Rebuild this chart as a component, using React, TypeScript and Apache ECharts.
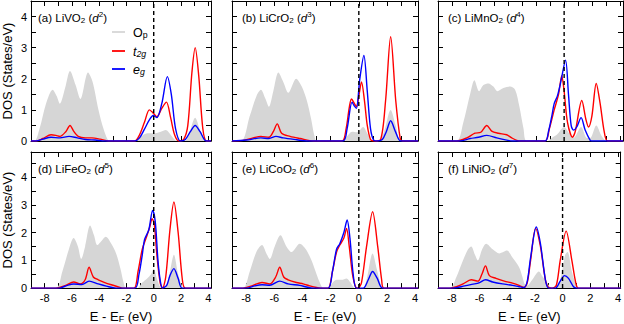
import React, { useEffect, useRef } from "react";
import * as echarts from "echarts";

// ---------- data (energy in eV, DOS in States/eV) ----------
const opLiVO2 = [[-9,0],[-8.74,0],[-8.37,0.4],[-7.9,1.2],[-7.41,1.65],[-7.12,1.45],[-6.88,1.2],[-6.5,1.7],[-6.14,2.25],[-5.73,1.8],[-5.37,1.35],[-4.82,2.2],[-4.48,1.9],[-4.05,1.0],[-3.69,0.4],[-3.38,0.05],[-3.2,0],[-1.28,0],[-0.92,0.15],[-0.44,0.25],[0.04,0.25],[0.52,0.3],[0.88,0.35],[1.24,0.2],[1.6,0.02],[1.96,0],[2.3,0],[2.6,0.25],[3.04,0.75],[3.4,0.35],[3.76,0.03],[3.9,0],[4.2,0]];
const t2gLiVO2 = [[-9,0],[-8.62,0],[-8.13,0.08],[-7.53,0.2],[-7.17,0.18],[-6.88,0.15],[-6.45,0.3],[-6.14,0.5],[-5.85,0.3],[-5.54,0.15],[-5.01,0.1],[-4.53,0.1],[-3.93,0.06],[-3.33,0],[-1.4,0],[-1.04,0.2],[-0.68,0.6],[-0.32,1.0],[-0.08,0.92],[0.23,0.78],[0.59,1.05],[0.93,1.25],[1.24,0.75],[1.53,0.2],[1.84,0],[2.2,0.05],[2.5,0.5],[2.8,2.2],[3.04,3.0],[3.3,2.1],[3.6,0.4],[3.88,0],[4.2,0]];
const egLiVO2 = [[-9,0],[-8.62,0],[-8.13,0.06],[-7.53,0.12],[-6.88,0.1],[-6.21,0.15],[-5.61,0.1],[-5.01,0.05],[-4.29,0.03],[-3.57,0],[-1.4,0],[-1.04,0.1],[-0.68,0.38],[-0.32,0.68],[-0.03,0.82],[0.23,0.75],[0.59,1.2],[1.0,2.07],[1.29,1.5],[1.6,0.4],[1.96,0],[2.32,0.05],[2.68,0.3],[3.04,0.5],[3.4,0.3],[3.84,0],[4.2,0]];

const opLiCrO2 = [[-9,0],[-8.33,0],[-7.74,0.8],[-7.26,1.45],[-6.95,1.65],[-6.62,1.35],[-6.38,1.1],[-6.07,1.6],[-5.71,2.2],[-5.36,1.9],[-5.0,1.55],[-4.45,2.0],[-4.05,1.75],[-3.69,1.3],[-3.38,0.7],[-3.17,0.2],[-2.98,0],[-1.19,0],[-0.83,0.15],[-0.48,0.3],[-0.12,0.28],[0.31,0.45],[0.6,0.25],[0.95,0],[1.4,0],[1.79,0.3],[2.26,1.0],[2.62,0.5],[2.98,0],[4.2,0]];
const t2gLiCrO2 = [[-9,0],[-8.21,0.02],[-7.5,0.1],[-6.95,0.15],[-6.38,0.12],[-6.07,0.3],[-5.79,0.55],[-5.48,0.25],[-4.88,0.15],[-4.17,0.08],[-3.21,0],[-1.19,0],[-0.9,0.4],[-0.67,1.1],[-0.52,1.35],[-0.31,1.2],[-0.17,1.1],[0.02,1.5],[0.19,1.9],[0.4,1.3],[0.6,0.5],[0.83,0.05],[1.07,0],[1.55,0.05],[1.9,1.3],[2.26,3.35],[2.62,1.3],[2.93,0.1],[3.1,0],[4.2,0]];
const egLiCrO2 = [[-9,0],[-7.98,0.03],[-6.95,0.1],[-6.38,0.08],[-5.88,0.15],[-5.36,0.1],[-4.4,0.04],[-3.69,0],[-1.12,0],[-0.83,0.4],[-0.48,1.25],[-0.31,1.12],[-0.17,1.05],[0.07,2.0],[0.36,2.75],[0.6,1.6],[0.83,0.4],[1.07,0.02],[1.3,0],[1.67,0.05],[1.95,0.3],[2.26,0.65],[2.6,0.3],[2.98,0],[4.2,0]];

const opLiMnO2 = [[-9,0],[-7.67,0],[-7.19,0.6],[-6.71,1.5],[-6.4,1.95],[-6.07,1.6],[-5.76,1.8],[-5.4,1.85],[-5.05,1.75],[-4.76,1.6],[-4.33,1.7],[-3.86,1.75],[-3.5,1.65],[-3.19,1.1],[-2.9,0.4],[-2.67,0],[-1.19,0],[-0.88,0.1],[-0.52,0.2],[0.0,0.45],[0.36,0.25],[0.67,0.1],[1.21,0.45],[1.62,0.1],[1.86,0.1],[2.29,0.5],[2.69,0.15],[3.05,0],[4.2,0]];
const t2gLiMnO2 = [[-9,0],[-7.67,0],[-6.95,0.1],[-6.36,0.25],[-5.95,0.28],[-5.52,0.5],[-5.17,0.32],[-4.69,0.25],[-4.1,0.2],[-3.74,0.1],[-3.38,0.02],[-3.1,0],[-1.36,0],[-1.05,0.4],[-0.71,1.0],[-0.4,1.5],[-0.17,2.1],[0.0,1.6],[0.24,0.6],[0.6,0.12],[0.79,0.3],[1.26,1.3],[1.55,0.7],[1.74,0.45],[1.98,0.8],[2.29,1.85],[2.57,1.2],[2.86,0.3],[3.1,0],[4.2,0]];
const egLiMnO2 = [[-9,0],[-7.43,0],[-6.71,0.08],[-6.12,0.12],[-5.52,0.18],[-4.81,0.1],[-4.1,0.03],[-3.7,0],[-1.36,0],[-1.12,0.3],[-0.88,0.8],[-0.71,1.2],[-0.48,1.45],[-0.24,1.9],[0.1,2.6],[0.31,1.5],[0.5,0.5],[0.67,0.35],[0.9,0.45],[1.21,0.75],[1.5,0.35],[1.86,0.02],[2.0,0],[4.2,0]];

const opLiFeO2 = [[-9,0],[-7.18,0],[-6.7,0.6],[-6.22,1.4],[-5.87,1.8],[-5.56,1.5],[-5.32,1.05],[-5.03,1.5],[-4.67,2.25],[-4.38,1.9],[-4.14,1.55],[-3.83,1.7],[-3.52,1.85],[-3.11,1.6],[-2.76,1.25],[-2.44,0.7],[-2.21,0.2],[-2.04,0],[-1.2,0],[-0.84,0.2],[-0.48,0.35],[-0.2,0.5],[0.0,0.7],[0.23,0.35],[0.47,0.05],[0.71,0],[0.95,0.1],[1.19,0.6],[1.48,1.2],[1.79,0.5],[2.1,0.05],[2.27,0],[4.2,0]];
const t2gLiFeO2 = [[-9,0],[-7.18,0],[-6.46,0.1],[-5.87,0.22],[-5.39,0.15],[-5.03,0.3],[-4.74,0.75],[-4.43,0.4],[-4.07,0.3],[-3.59,0.2],[-3.11,0.12],[-2.64,0.05],[-2.28,0],[-1.44,0],[-1.15,0.6],[-0.84,1.4],[-0.56,1.8],[-0.29,2.2],[-0.12,2.5],[0.04,2.3],[0.23,1.2],[0.47,0.2],[0.64,0],[0.88,0.4],[1.19,2.1],[1.48,3.1],[1.79,2.0],[2.1,0.3],[2.32,0],[4.2,0]];
const egLiFeO2 = [[-9,0],[-6.94,0],[-6.34,0.1],[-5.87,0.15],[-5.27,0.13],[-4.74,0.25],[-4.07,0.15],[-3.47,0.07],[-2.76,0],[-1.37,0],[-1.08,0.5],[-0.84,1.2],[-0.67,1.75],[-0.36,2.1],[-0.08,2.8],[0.11,2.4],[0.31,1.0],[0.47,0.3],[0.64,0],[0.95,0.1],[1.19,0.45],[1.48,0.7],[1.79,0.35],[2.1,0],[4.2,0]];

const opLiCoO2 = [[-9,0],[-8.22,0],[-7.74,0.6],[-7.27,1.3],[-6.87,1.55],[-6.56,1.25],[-6.32,1.05],[-5.97,1.5],[-5.56,1.9],[-5.14,1.5],[-4.78,1.3],[-4.19,1.6],[-3.76,1.4],[-3.36,1.0],[-3.0,0.5],[-2.77,0.2],[-2.53,0],[-2.18,0],[-1.94,0.15],[-1.58,0.3],[-1.23,0.3],[-0.87,0.35],[-0.59,0.2],[-0.28,0],[0.31,0],[0.55,0.3],[0.98,1.25],[1.27,0.7],[1.58,0.1],[1.74,0],[4.2,0]];
const t2gLiCoO2 = [[-9,0],[-8.22,0],[-7.51,0.1],[-6.87,0.2],[-6.32,0.15],[-5.9,0.4],[-5.61,0.75],[-5.33,0.4],[-5.02,0.3],[-4.43,0.2],[-3.95,0.15],[-3.48,0.08],[-3.0,0.02],[-2.7,0],[-2.18,0],[-1.87,0.6],[-1.58,1.3],[-1.35,1.55],[-1.06,1.8],[-0.87,2.15],[-0.68,1.5],[-0.45,0.5],[-0.21,0.02],[-0.05,0],[0.19,0.2],[0.55,1.5],[0.98,2.75],[1.34,1.5],[1.62,0.3],[1.78,0],[4.2,0]];
const egLiCoO2 = [[-9,0],[-7.98,0],[-7.39,0.08],[-6.87,0.12],[-6.32,0.1],[-5.61,0.25],[-5.02,0.15],[-4.19,0.1],[-3.72,0.04],[-3.24,0],[-2.18,0],[-1.87,0.6],[-1.58,1.4],[-1.35,1.6],[-1.06,2.0],[-0.83,2.45],[-0.63,1.8],[-0.4,0.5],[-0.17,0],[0.31,0],[0.67,0.3],[0.98,0.6],[1.31,0.35],[1.69,0],[4.2,0]];

const opLiNiO2 = [[-9,0],[-8.14,0],[-7.67,0.4],[-7.19,1.0],[-6.83,1.4],[-6.6,1.5],[-6.33,1.2],[-6.12,1.0],[-5.81,1.4],[-5.52,1.6],[-5.05,1.4],[-4.57,1.25],[-4.02,1.35],[-3.62,1.1],[-3.14,0.75],[-2.9,0.4],[-2.74,0.15],[-2.55,0.1],[-2.19,0.3],[-1.71,0.6],[-1.43,0.4],[-1.12,0.2],[-0.81,0],[-0.52,0],[-0.17,0.3],[0.19,1.2],[0.36,1.3],[0.67,0.6],[0.98,0.1],[1.14,0],[4.2,0]];
const t2gLiNiO2 = [[-9,0],[-8.14,0],[-7.67,0.05],[-7.19,0.15],[-6.6,0.3],[-6.12,0.25],[-5.83,0.5],[-5.57,0.8],[-5.29,0.45],[-4.81,0.35],[-4.21,0.25],[-3.62,0.18],[-3.14,0.1],[-2.79,0.02],[-2.55,0.2],[-2.31,1.0],[-1.95,2.15],[-1.6,1.5],[-1.24,0.3],[-1.0,0.02],[-0.76,0],[-0.45,0.1],[-0.17,1.0],[0.26,2.05],[0.67,1.0],[0.95,0.2],[1.14,0],[4.2,0]];
const egLiNiO2 = [[-9,0],[-7.9,0],[-7.07,0.08],[-6.36,0.15],[-6.0,0.2],[-5.57,0.3],[-5.05,0.22],[-4.33,0.15],[-3.62,0.1],[-3.14,0.05],[-2.79,0.02],[-2.55,0.25],[-2.31,1.1],[-1.9,2.2],[-1.6,1.6],[-1.24,0.3],[-1.0,0],[-0.52,0],[-0.17,0.25],[0.14,0.45],[0.43,0.35],[0.79,0.05],[1.02,0],[4.2,0]];

const panelLetters = ["(a)", "(b)", "(c)", "(d)", "(e)", "(f)"];
const compounds = ["LiVO", "LiCrO", "LiMnO", "LiFeO", "LiCoO", "LiNiO"];
const dElectrons = ["2", "3", "4", "5", "6", "7"];
const opSets = [opLiVO2, opLiCrO2, opLiMnO2, opLiFeO2, opLiCoO2, opLiNiO2];
const t2gSets = [t2gLiVO2, t2gLiCrO2, t2gLiMnO2, t2gLiFeO2, t2gLiCoO2, t2gLiNiO2];
const egSets = [egLiVO2, egLiCrO2, egLiMnO2, egLiFeO2, egLiCoO2, egLiNiO2];
const rowYMax = [4.5, 4.9];
const xMin = -9;
const xMax = 4.2;

// ---------- layout ----------
const COL_LEFT = [28, 232, 438];
const COL_WIDTH = [183, 186, 185];
const ROW_TOP = [1, 152];
const ROW_HEIGHT = [140, 139.5];
const FONT = "'Liberation Sans', Arial, Helvetica, sans-serif";
const GRAY = "#d6d6d6";
const RED = "#ff0000";
const BLUE = "#0000ff";

const richBase = (size: number) => ({
  n: { fontSize: size, fontFamily: FONT, fill: "#000", color: "#000", verticalAlign: "bottom", lineHeight: 14 },
  it: { fontSize: size, fontFamily: FONT, fontStyle: "italic", fill: "#000", color: "#000", verticalAlign: "bottom", lineHeight: 14 },
  sub: { fontSize: size * 0.7, fontFamily: FONT, fill: "#000", color: "#000", verticalAlign: "bottom", lineHeight: 8, padding: [8, 0, 0, 0] },
  subit: { fontSize: size * 0.7, fontFamily: FONT, fontStyle: "italic", fill: "#000", color: "#000", verticalAlign: "bottom", lineHeight: 8, padding: [8, 0, 0, 0] },
  sup: { fontSize: size * 0.7, fontFamily: FONT, fill: "#000", color: "#000", verticalAlign: "top", lineHeight: 8, padding: [0, 0, 7, 0] },
});

function buildOption() {
  const grid: any[] = [];
  const xAxis: any[] = [];
  const yAxis: any[] = [];
  const series: any[] = [];
  const graphic: any[] = [];

  const xFmt = (v: number) => {
    const r = Math.round(v);
    return Math.abs(v - r) < 1e-6 && r % 2 === 0 ? String(r) : "";
  };
  const yFmt = (v: number) => {
    const r = Math.round(v);
    return Math.abs(v - r) < 1e-6 ? String(r) : "";
  };

  for (let i = 0; i < 6; i++) {
    const row = Math.floor(i / 3);
    const col = i % 3;
    const ymax = rowYMax[row];
    grid.push({ left: COL_LEFT[col], top: ROW_TOP[row], width: COL_WIDTH[col], height: ROW_HEIGHT[row], containLabel: false });

    const axLine = { show: true, onZero: false, lineStyle: { color: "#000", width: 1 } };
    const axTick = { show: true, inside: true, length: 5, lineStyle: { color: "#000", width: 1 } };
    const xCommon = { type: "value", gridIndex: i, min: xMin, max: xMax, interval: 1, splitLine: { show: false }, axisLine: axLine, axisTick: axTick };
    xAxis.push({
      ...xCommon,
      position: "bottom",
      axisLabel: { show: row === 1, formatter: xFmt, fontSize: 11, color: "#000", margin: 4, fontFamily: FONT, showMinLabel: true, showMaxLabel: true },
      name: row === 1 ? "{n|E - E}{sub|F}{n| (eV)}" : "",
      nameLocation: "middle",
      nameGap: 10,
      nameTextStyle: {
        fontSize: 13, fontFamily: FONT, color: "#000",
        rich: {
          n: { fontSize: 13, fontFamily: FONT, color: "#000", verticalAlign: "bottom", lineHeight: 16 },
          sub: { fontSize: 9, fontFamily: FONT, color: "#000", verticalAlign: "bottom", lineHeight: 9, padding: [10, 0, 0, 0] },
        },
      },
    });
    xAxis.push({ ...xCommon, position: "top", axisLabel: { show: false } });

    const yCommon = { type: "value", gridIndex: i, min: 0, max: ymax, interval: 0.5, splitLine: { show: false }, axisLine: axLine, axisTick: axTick };
    yAxis.push({
      ...yCommon,
      position: "left",
      axisLabel: { show: col === 0, formatter: yFmt, fontSize: 11, color: "#000", margin: 4, fontFamily: FONT },
      name: col === 0 ? "DOS (States/eV)" : "",
      nameLocation: "middle",
      nameGap: 17,
      nameTextStyle: { fontSize: 13, fontFamily: FONT, color: "#000" },
    });
    yAxis.push({ ...yCommon, position: "right", axisLabel: { show: false } });

    const xi = 2 * i;
    series.push({
      type: "line", xAxisIndex: xi, yAxisIndex: xi, data: opSets[i], smooth: 0.3,
      showSymbol: false, symbol: "none", lineStyle: { width: 0, color: GRAY }, itemStyle: { color: GRAY },
      areaStyle: { color: GRAY, opacity: 1 }, silent: true, z: 1,
    });
    series.push({
      type: "line", xAxisIndex: xi, yAxisIndex: xi, data: t2gSets[i], smooth: 0.3,
      showSymbol: false, symbol: "none", lineStyle: { width: 1.4, color: RED }, itemStyle: { color: RED }, silent: true, z: 2,
    });
    series.push({
      type: "line", xAxisIndex: xi, yAxisIndex: xi, data: egSets[i], smooth: 0.3,
      showSymbol: false, symbol: "none", lineStyle: { width: 1.4, color: BLUE }, itemStyle: { color: BLUE }, silent: true, z: 3,
    });
    series.push({
      type: "line", xAxisIndex: xi, yAxisIndex: xi, data: [[0, 0], [0, ymax]],
      showSymbol: false, symbol: "none", lineStyle: { width: 1.4, color: "#000", type: [4, 3] }, silent: true, z: 4,
    });

    graphic.push({
      type: "text",
      x: COL_LEFT[col] + 10,
      y: ROW_TOP[row] + 16,
      z: 10,
      style: {
        text: `{n|${panelLetters[i]} ${compounds[i]}}{sub|2}{n| (}{it|d}{sup|${dElectrons[i]}}{n|)}`,
        rich: richBase(11.5),
        verticalAlign: "middle",
        fill: "#000",
      },
    });
  }

  // legend in panel (a)
  const legendItems = [
    { color: GRAY, y: 32, text: "{n|O}{sub|p}" },
    { color: RED, y: 51, text: "{it|t}{subit|2g}" },
    { color: BLUE, y: 69, text: "{it|e}{subit|g}" },
  ];
  legendItems.forEach((it) => {
    graphic.push({ type: "line", z: 10, shape: { x1: 112, y1: it.y, x2: 125, y2: it.y }, style: { stroke: it.color, lineWidth: 1.8 } });
    graphic.push({ type: "text", z: 10, x: 133, y: it.y, style: { text: it.text, rich: richBase(12.5), verticalAlign: "middle", fill: "#000" } });
  });

  return {
    animation: false,
    backgroundColor: "#fff",
    grid,
    xAxis,
    yAxis,
    series,
    graphic,
  };
}

export default function App() {
  const ref = useRef<HTMLDivElement>(null);
  useEffect(() => {
    if (!ref.current) return;
    const chart = echarts.init(ref.current, undefined, { renderer: "svg" });
    chart.setOption(buildOption() as any);
    return () => chart.dispose();
  }, []);
  return <div ref={ref} style={{ position: "fixed", left: 0, top: 0, width: 624, height: 324 }} />;
}
